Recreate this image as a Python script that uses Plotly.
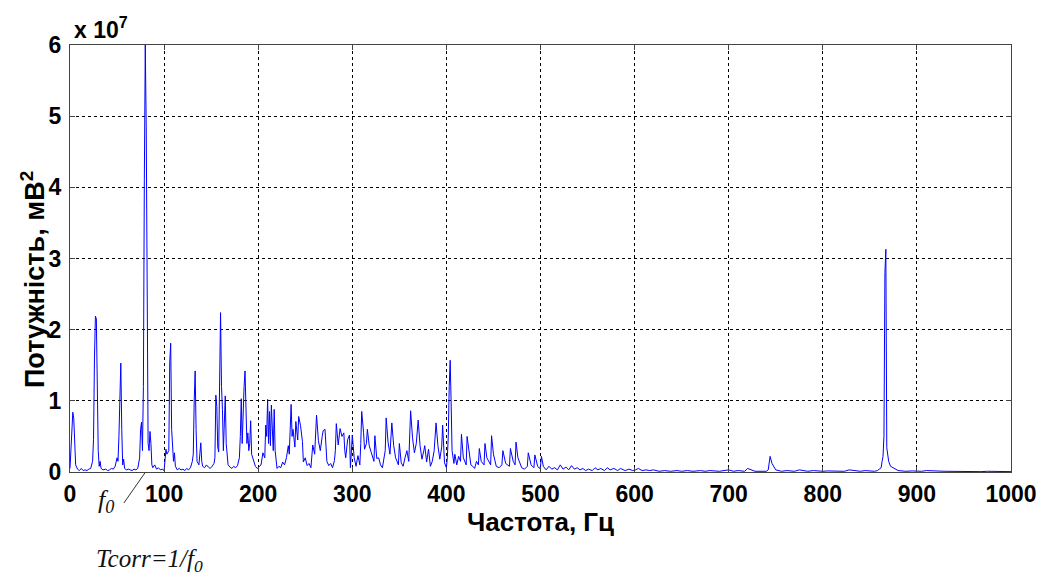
import plotly.graph_objects as go

# Spectrum (frequency in Hz, power in units of 1e7 mV^2)
freq_hz = [
    0, 1, 2, 3, 4, 5, 6, 8, 10, 12, 14, 16, 18, 20, 22, 24, 25, 26, 27, 28, 29, 30, 31, 32, 33, 35, 38, 40, 42, 44, 46, 48,
    50, 51, 52, 53, 54, 55, 56, 57, 58, 60, 62, 64, 66, 68, 70, 72, 74, 75, 76, 77, 78, 79, 80, 81, 82, 83, 84, 85, 86, 87,
    88, 90, 92, 94, 96, 98, 100, 102, 103, 105, 106, 107, 108, 109, 110, 111, 112, 114, 116, 118, 120, 122, 124, 126, 128,
    130, 131, 132, 133, 134, 135, 137, 139, 140, 141, 143, 145, 147, 149, 151, 153, 154, 155, 156, 157, 158, 159, 160, 161,
    162, 163, 164, 165, 166, 168, 170, 172, 174, 176, 178, 180, 181, 182, 183, 184, 185, 186, 187, 188, 189, 190, 191, 192,
    193, 195, 197, 199, 201, 203, 205, 207, 208, 209, 210, 211, 212, 213, 214, 216, 217, 218, 220, 222, 224, 226, 228, 230,
    232, 233, 234, 235, 236, 237, 239, 240, 242, 243, 245, 247, 248, 250, 252, 254, 256, 258, 260, 261, 262, 264, 266, 268,
    269, 271, 273, 275, 277, 279, 281, 282, 283, 285, 287, 289, 291, 292, 293, 295, 296, 297, 298, 300, 302, 304, 306, 308,
    309, 310, 312, 313, 315, 316, 318, 320, 323, 324, 326, 328, 330, 332, 333, 335, 336, 338, 340, 341, 342, 344, 346, 349,
    350, 352, 354, 356, 358, 360, 361, 362, 364, 366, 368, 369, 370, 372, 374, 376, 377, 379, 381, 383, 385, 387, 388, 389,
    391, 393, 395, 396, 398, 400, 401, 402, 403, 404, 405, 406, 408, 409, 411, 413, 415, 416, 418, 421, 422, 424, 426, 428,
    430, 432, 434, 435, 437, 440, 441, 443, 447, 448, 450, 453, 456, 459, 460, 463, 467, 468, 471, 473, 474, 476, 480, 483,
    486, 487, 490, 493, 494, 497, 499, 500, 501, 503, 506, 509, 512, 515, 518, 521, 524, 527, 530, 533, 536, 539, 542, 545,
    548, 551, 555, 558, 561, 564, 568, 571, 574, 578, 582, 585, 590, 594, 598, 601, 604, 608, 612, 616, 620, 626, 632, 638,
    645, 650, 656, 662, 670, 675, 680, 690, 695, 700, 705, 710, 717, 720, 728, 735, 740, 742, 743, 744, 746, 750, 756, 762,
    770, 775, 784, 790, 800, 805, 823, 828, 840, 845, 855, 858, 860, 862, 863, 864, 865, 866, 867, 868, 870, 872, 880, 888,
    895, 905, 910, 930, 968, 975, 1000,
]
power_e7 = [
    0.05, 0.30, 0.60, 0.84, 0.75, 0.30, 0.10, 0.04, 0.02, 0.05, 0.02, 0.03, 0.02, 0.04, 0.05, 0.15, 0.46, 1.60, 2.19, 2.15, 1.20, 0.30, 0.08, 0.15, 0.05, 0.03, 0.04, 0.02, 0.03, 0.05, 0.04, 0.08,
    0.20, 0.15, 0.50, 1.35, 1.53, 0.60, 0.10, 0.18, 0.05, 0.03, 0.04, 0.03, 0.02, 0.04, 0.03, 0.05, 0.20, 0.60, 0.70, 0.30, 1.20, 4.10, 6.00, 4.85, 2.40, 0.40, 0.30, 0.57, 0.40, 0.10,
    0.06, 0.10, 0.04, 0.06, 0.03, 0.04, 0.02, 0.32, 0.25, 0.30, 1.55, 1.81, 0.60, 0.25, 0.15, 0.27, 0.08, 0.03, 0.05, 0.03, 0.04, 0.02, 0.05, 0.03, 0.06,
    0.15, 0.25, 1.00, 1.42, 0.60, 0.15, 0.10, 0.41, 0.15, 0.08, 0.06, 0.10, 0.07, 0.05, 0.08, 0.12, 0.20, 1.08, 0.92, 0.35, 0.28, 1.58, 2.24, 1.20, 0.88,
    0.30, 0.60, 1.07, 0.40, 0.10, 0.07, 0.05, 0.08, 0.06, 0.09, 0.20, 0.50, 1.03, 0.40, 1.04, 1.20, 1.42, 0.80, 0.40, 0.55, 0.30, 0.40, 0.72, 0.25,
    0.15, 0.08, 0.05, 0.07, 0.10, 0.27, 0.20, 0.66, 0.50, 1.02, 0.40, 0.85, 0.37, 0.94, 0.30, 0.88, 0.30, 0.05, 0.08, 0.06, 0.14, 0.10, 0.20, 0.37,
    0.25, 0.60, 0.95, 0.50, 0.60, 0.35, 0.71, 0.45, 0.78, 0.65, 0.43, 0.14, 0.20, 0.09, 0.12, 0.06, 0.38, 0.25, 0.45, 0.80, 0.44, 0.30, 0.50, 0.58,
    0.60, 0.15, 0.09, 0.12, 0.06, 0.16, 0.30, 0.68, 0.38, 0.61, 0.50, 0.55, 0.30, 0.20, 0.45, 0.50, 0.52, 0.06, 0.52, 0.20, 0.08, 0.23, 0.10, 0.40,
    0.85, 0.55, 0.32, 0.40, 0.60, 0.37, 0.27, 0.15, 0.51, 0.19, 0.20, 0.10, 0.06, 0.15, 0.30, 0.76, 0.42, 0.25, 0.55, 0.69, 0.37, 0.20, 0.10, 0.40,
    0.13, 0.08, 0.20, 0.30, 0.15, 0.55, 0.86, 0.48, 0.27, 0.40, 0.55, 0.73, 0.37, 0.18, 0.30, 0.37, 0.14, 0.32, 0.08, 0.15, 0.30, 0.45, 0.69, 0.37,
    0.18, 0.35, 0.66, 0.13, 0.06, 0.20, 0.50, 1.20, 1.57, 1.00, 0.30, 0.12, 0.25, 0.10, 0.22, 0.15, 0.53, 0.20, 0.10, 0.50, 0.30, 0.10, 0.08, 0.05,
    0.15, 0.10, 0.33, 0.15, 0.10, 0.40, 0.20, 0.10, 0.51, 0.25, 0.08, 0.06, 0.10, 0.30, 0.12, 0.08, 0.33, 0.15, 0.10, 0.42, 0.20, 0.06, 0.04, 0.08,
    0.27, 0.10, 0.06, 0.24, 0.08, 0.05, 0.08, 0.22, 0.08, 0.03, 0.08, 0.04, 0.06, 0.03, 0.10, 0.04, 0.07, 0.03, 0.09, 0.04, 0.06, 0.03, 0.05, 0.02,
    0.04, 0.02, 0.06, 0.03, 0.05, 0.02, 0.06, 0.03, 0.05, 0.02, 0.05, 0.02, 0.04, 0.02, 0.03, 0.05, 0.02, 0.03, 0.02, 0.03, 0.01, 0.02, 0.01, 0.02,
    0.01, 0.02, 0.01, 0.02, 0.01, 0.02, 0.01, 0.015, 0.03, 0.01, 0.02, 0.01, 0.05, 0.01, 0.015, 0.01, 0.03, 0.10, 0.22, 0.12, 0.03, 0.01, 0.02, 0.01,
    0.03, 0.01, 0.02, 0.01, 0.015, 0.01, 0.03, 0.01, 0.02, 0.01, 0.02, 0.04, 0.06, 0.15, 0.22, 0.50, 2.80, 3.13, 0.34, 0.15, 0.08, 0.02, 0.01, 0.015,
    0.01, 0.02, 0.01, 0.005, 0.01, 0.005, 0.005,
]

x_ticks = [0, 100, 200, 300, 400, 500, 600, 700, 800, 900, 1000]
y_ticks = [0, 1, 2, 3, 4, 5, 6]

SANS = "Arial, Liberation Sans, sans-serif"
SERIF = "Liberation Serif, Times New Roman, serif"

fig = go.Figure()
fig.add_trace(go.Scatter(x=freq_hz, y=power_e7, mode="lines",
                         line=dict(color="#0000ff", width=1), hoverinfo="x+y"))

axis_common = dict(showgrid=True, gridcolor="#000000", griddash="dot", gridwidth=1,
                   showline=True, linecolor="#444444", linewidth=1, mirror="ticks",
                   ticks="inside", ticklen=5, tickcolor="#444444", zeroline=False,
                   tickfont=dict(family=SANS, size=23, color="black", weight="bold"))

fig.update_xaxes(range=[0, 1000], tickvals=x_ticks, ticktext=[str(v) for v in x_ticks],
                 ticklabelstandoff=1,
                 title=dict(text="Частота, Гц", standoff=0,
                            font=dict(family=SANS, size=26, color="black", weight="bold")),
                 **axis_common)
fig.update_yaxes(range=[0, 6], tickvals=y_ticks, ticktext=[str(v) for v in y_ticks],
                 ticklabelstandoff=3, **axis_common)

fig.update_layout(
    width=1049, height=575,
    margin=dict(l=70, r=36, t=45, b=103),
    plot_bgcolor="white", paper_bgcolor="white",
    showlegend=False,
    font=dict(family=SANS, color="black"),
)

# y-axis title (as rotated annotation so it can sit where the reference puts it)
fig.add_annotation(xref="paper", yref="paper", x=(33 - 70) / 943, y=(472 - 280) / 427,
                   xanchor="center", yanchor="middle", textangle=-90, showarrow=False,
                   text="Потужність, мВ<sup>2</sup>",
                   font=dict(family=SANS, size=27, color="black", weight="bold"))

# exponent label
fig.add_annotation(xref="paper", yref="paper", x=0.002, y=1.0, xanchor="left", yanchor="bottom",
                   text="x 10<sup>7</sup>", showarrow=False,
                   font=dict(family=SANS, size=23, color="black", weight="bold"))

# f0 pointer
fig.add_shape(type="line", xref="paper", yref="paper",
              x0=(124 - 70) / 943, y0=(472 - 503) / 427, x1=(145 - 70) / 943, y1=(472 - 473) / 427,
              line=dict(color="#333333", width=1))
fig.add_annotation(xref="paper", yref="paper", x=(106 - 70) / 943, y=(472 - 501) / 427,
                   text="<i>f<sub>0</sub></i>", showarrow=False, xanchor="center", yanchor="middle",
                   font=dict(family=SERIF, size=26, color="#111111"))
fig.add_annotation(xref="paper", yref="paper", x=(94 - 70) / 943, y=(472 - 560) / 427,
                   text="<i>Tcorr=1/f<sub>0</sub></i>", showarrow=False, xanchor="left", yanchor="middle",
                   font=dict(family=SERIF, size=25, color="#111111"))

fig.write_html("out.html")
